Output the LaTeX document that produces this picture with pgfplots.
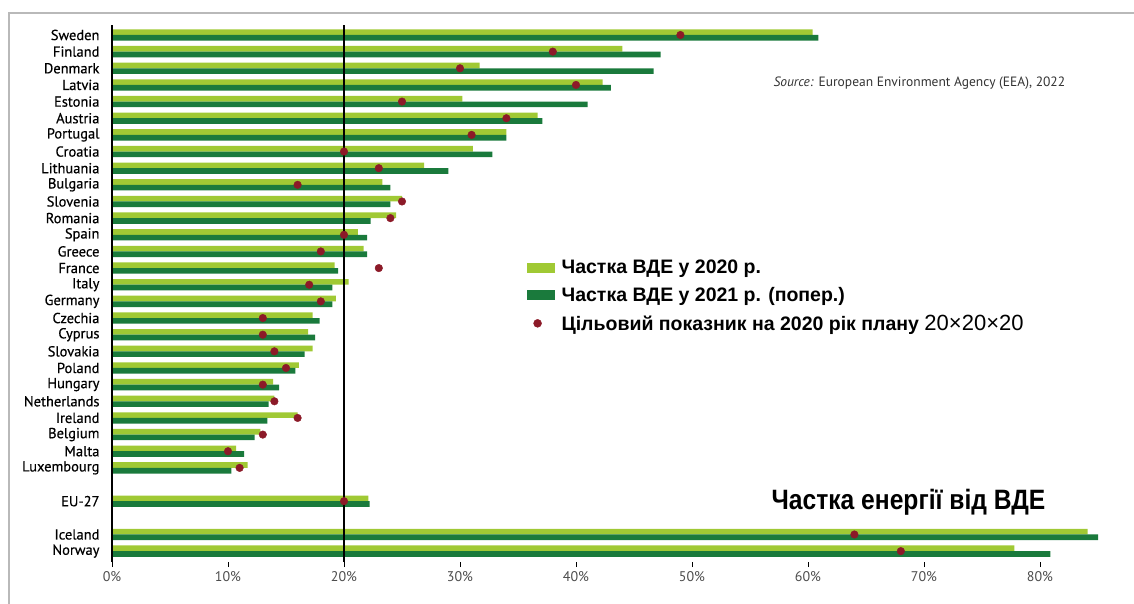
\documentclass[border=0pt]{standalone}
\usepackage{pgfplots}
\usepackage{pgfplotstable}
\pgfplotsset{compat=1.18}
\usepackage{fontspec}
\setmainfont{PT Sans}
\newfontfamily\lblfont[FakeBold=0.4]{PT Sans}
\newfontfamily\legfont{Liberation Sans}
\newfontfamily\ttlfont[FakeStretch=0.88]{Liberation Sans}

\definecolor{lightgr}{RGB}{160,201,52}
\definecolor{darkgr}{RGB}{26,122,60}
\definecolor{dotred}{RGB}{140,26,40}

% pos: vertical slot (Sweden on top), share of RES in %
\pgfplotstableread{
pos name        y2020 y2021 target
31  Sweden      60.4  60.9  49
30  Finland     44.0  47.3  38
29  Denmark     31.7  46.7  30
28  Latvia      42.3  43.0  40
27  Estonia     30.2  41.0  25
26  Austria     36.7  37.1  34
25  Portugal    34.0  34.0  31
24  Croatia     31.1  32.8  20
23  Lithuania   26.9  29.0  23
22  Bulgaria    23.3  24.0  16
21  Slovenia    25.0  24.0  25
20  Romania     24.5  22.3  24
19  Spain       21.2  22.0  20
18  Greece      21.7  22.0  18
17  France      19.2  19.5  23
16  Italy       20.4  19.0  17
15  Germany     19.3  19.0  18
14  Czechia     17.3  17.9  13
13  Cyprus      16.9  17.5  13
12  Slovakia    17.3  16.6  14
11  Poland      16.1  15.8  15
10  Hungary     13.9  14.4  13
9   Netherlands 14.0  13.5  14
8   Ireland     16.0  13.4  16
7   Belgium     12.8  12.3  13
6   Malta       10.7  11.4  10
5   Luxembourg  11.7  10.3  11
3   EU-27       22.1  22.2  20
1   Iceland     84.1  85.0  64
0   Norway      77.8  80.9  68
}\data

\begin{document}
\begin{tikzpicture}
\useasboundingbox (0,0) rectangle (1134pt,604pt);
\draw[gray!55, line width=1.3pt] (9pt,0) -- (9pt,591pt) -- (1134pt,591pt);
\begin{axis}[
    at={(112pt,579pt)}, anchor=north west,
    x=11.6pt, y=16.65pt,
    xmin=0, xmax=88, ymin=-0.66, ymax=31.6,
    axis line style={draw=none},
    clip=false,
    bar width=0.34,
    xtick={0,10,...,80},
    xticklabels={0\%,10\%,20\%,30\%,40\%,50\%,60\%,70\%,80\%},
    xtick pos=bottom, tick align=outside,
    xtick style={black, line width=0.8pt},
    major tick length=5pt,
    x tick label style={font=\fontsize{14}{16}\selectfont, text=black!70, yshift=-1pt},
    ytick={0,1,3,5,6,...,31},
    yticklabels={Norway,Iceland,EU-27,Luxembourg,Malta,Belgium,Ireland,Netherlands,
      Hungary,Poland,Slovakia,Cyprus,Czechia,Germany,Italy,France,Greece,Spain,
      Romania,Slovenia,Bulgaria,Lithuania,Croatia,Portugal,Austria,Estonia,Latvia,
      Denmark,Finland,Sweden},
    ytick style={draw=none},
    y tick label style={font=\lblfont\fontsize{14.5}{15}\selectfont, text=black, xshift=-4pt},
    legend style={at={(0.403,0.57)}, anchor=north west, draw=none, fill=none,
      font=\legfont\bfseries\fontsize{19.5}{22}\selectfont,
      row sep=8pt, column sep=5pt, legend cell align=left},
]
\addplot[xbar, draw=none, fill=lightgr, bar shift=0.17,
    legend image code/.code={\fill[lightgr] (0pt,-5pt) rectangle (28pt,5pt);}]
    table[x=y2020, y=pos] {\data};
\addlegendentry{Частка ВДЕ у 2020 р.}
\addplot[xbar, draw=none, fill=darkgr, bar shift=-0.17,
    legend image code/.code={\fill[darkgr] (0pt,-5pt) rectangle (28pt,5pt);}]
    table[x=y2021, y=pos] {\data};
\addlegendentry{Частка ВДЕ у 2021 р. (попер.)}
\draw[black, line width=1.3pt] (axis cs:0,-0.66) -- (axis cs:0,31.6);
\draw[black, line width=1.1pt] (axis cs:20,-0.66) -- (axis cs:20,31.6);
\addplot[only marks, mark=*, mark size=3.8pt, color=dotred,
    legend image code/.code={\fill[dotred] (11pt,0pt) circle (4pt);}]
    table[x=target, y=pos] {\data};
\addlegendentry{Цільовий показник на 2020 рік плану {\mdseries\fontsize{22}{22}\selectfont 20×20×20}}
\end{axis}
\node[anchor=west, font=\fontsize{13.5}{15}\selectfont, text=black!80] at (770pt,521pt)
    {\textit{Source:} European Environment Agency (EEA), 2022};
\node[anchor=west, font=\ttlfont\bfseries\fontsize{28}{30}\selectfont] at (768pt,102pt)
    {Частка енергії від ВДЕ};
\end{tikzpicture}
\end{document}
